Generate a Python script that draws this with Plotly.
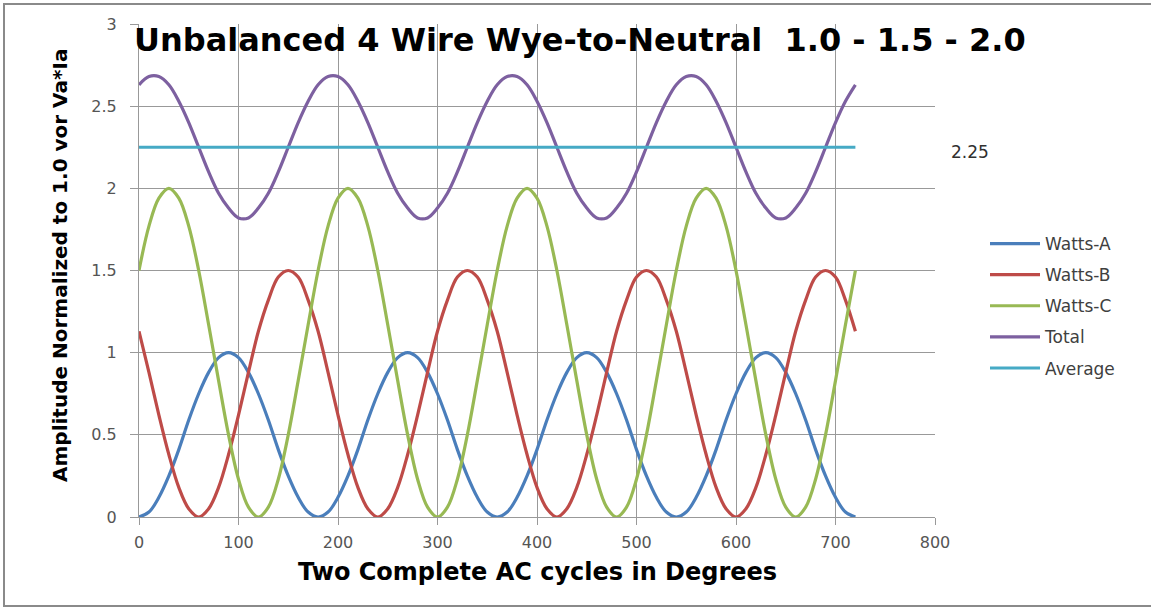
import plotly.graph_objects as go

degrees = [0, 10, 20, 30, 40, 50, 60, 70, 80, 90, 100, 110, 120, 130, 140, 150, 160, 170,
           180, 190, 200, 210, 220, 230, 240, 250, 260, 270, 280, 290, 300, 310, 320, 330, 340, 350,
           360, 370, 380, 390, 400, 410, 420, 430, 440, 450, 460, 470, 480, 490, 500, 510, 520, 530,
           540, 550, 560, 570, 580, 590, 600, 610, 620, 630, 640, 650, 660, 670, 680, 690, 700, 710,
           720]

watts_a = [0, 0.03, 0.12, 0.25, 0.41, 0.59, 0.75, 0.88, 0.97, 1, 0.97, 0.88, 0.75, 0.59, 0.41, 0.25, 0.12, 0.03,
           0, 0.03, 0.12, 0.25, 0.41, 0.59, 0.75, 0.88, 0.97, 1, 0.97, 0.88, 0.75, 0.59, 0.41, 0.25, 0.12, 0.03,
           0, 0.03, 0.12, 0.25, 0.41, 0.59, 0.75, 0.88, 0.97, 1, 0.97, 0.88, 0.75, 0.59, 0.41, 0.25, 0.12, 0.03,
           0, 0.03, 0.12, 0.25, 0.41, 0.59, 0.75, 0.88, 0.97, 1, 0.97, 0.88, 0.75, 0.59, 0.41, 0.25, 0.12, 0.03,
           0]

watts_b = [1.13, 0.88, 0.62, 0.38, 0.18, 0.05, 0, 0.05, 0.18, 0.38, 0.62, 0.88, 1.13, 1.32, 1.46, 1.5, 1.46, 1.32,
           1.13, 0.88, 0.62, 0.38, 0.18, 0.05, 0, 0.05, 0.18, 0.38, 0.62, 0.88, 1.13, 1.32, 1.46, 1.5, 1.46, 1.32,
           1.13, 0.88, 0.62, 0.38, 0.18, 0.05, 0, 0.05, 0.18, 0.38, 0.62, 0.88, 1.13, 1.32, 1.46, 1.5, 1.46, 1.32,
           1.13, 0.88, 0.62, 0.38, 0.18, 0.05, 0, 0.05, 0.18, 0.38, 0.62, 0.88, 1.13, 1.32, 1.46, 1.5, 1.46, 1.32,
           1.13]

watts_c = [1.5, 1.77, 1.94, 2, 1.94, 1.77, 1.5, 1.17, 0.83, 0.5, 0.23, 0.06, 0, 0.06, 0.23, 0.5, 0.83, 1.17,
           1.5, 1.77, 1.94, 2, 1.94, 1.77, 1.5, 1.17, 0.83, 0.5, 0.23, 0.06, 0, 0.06, 0.23, 0.5, 0.83, 1.17,
           1.5, 1.77, 1.94, 2, 1.94, 1.77, 1.5, 1.17, 0.83, 0.5, 0.23, 0.06, 0, 0.06, 0.23, 0.5, 0.83, 1.17,
           1.5, 1.77, 1.94, 2, 1.94, 1.77, 1.5, 1.17, 0.83, 0.5, 0.23, 0.06, 0, 0.06, 0.23, 0.5, 0.83, 1.17,
           1.5]

total = [2.63, 2.68, 2.68, 2.63, 2.53, 2.4, 2.25, 2.1, 1.97, 1.88, 1.82, 1.82, 1.88, 1.97, 2.1, 2.25, 2.4, 2.53,
         2.63, 2.68, 2.68, 2.63, 2.53, 2.4, 2.25, 2.1, 1.97, 1.88, 1.82, 1.82, 1.88, 1.97, 2.1, 2.25, 2.4, 2.53,
         2.63, 2.68, 2.68, 2.63, 2.53, 2.4, 2.25, 2.1, 1.97, 1.88, 1.82, 1.82, 1.88, 1.97, 2.1, 2.25, 2.4, 2.53,
         2.63, 2.68, 2.68, 2.63, 2.53, 2.4, 2.25, 2.1, 1.97, 1.88, 1.82, 1.82, 1.88, 1.97, 2.1, 2.25, 2.4, 2.53,
         2.63]

avg_x = [0, 720]
avg_y = [2.25, 2.25]
avg_label = "2.25"

series_names = ["Watts-A", "Watts-B", "Watts-C", "Total", "Average"]
colors = ["#4A7EBB", "#BE4B48", "#98B954", "#7D60A0", "#46AAC5"]

x_ticks = [0, 100, 200, 300, 400, 500, 600, 700, 800]
y_ticks = [0, 0.5, 1, 1.5, 2, 2.5, 3]
y_tick_text = ["0", "0.5", "1", "1.5", "2", "2.5", "3"]

title_text = "Unbalanced 4 Wire Wye-to-Neutral\u00a0 1.0 - 1.5 - 2.0"
x_title = "Two Complete AC cycles in Degrees"
y_title = "Amplitude Normalized to 1.0 vor Va*Ia"

W, H = 1151, 609
L, R, T, B = 139, 216, 24, 92
pw, ph = W - L - R, H - T - B

def px_x(p):
    return (p - L) / pw

def px_y(p):
    return (H - B - p) / ph

fig = go.Figure()
ys = [watts_a, watts_b, watts_c, total]
for name, yv, c in zip(series_names[:4], ys, colors[:4]):
    fig.add_trace(go.Scatter(x=degrees, y=yv, mode="lines", name=name,
                             legendgroup=name,
                             line=dict(color=c, width=3.2, shape="spline", smoothing=1.0)))
fig.add_trace(go.Scatter(x=avg_x, y=avg_y, mode="lines", name=series_names[4],
                         legendgroup=series_names[4],
                         line=dict(color=colors[4], width=3)))

tick_font = dict(family="DejaVu Sans", size=16, color="#555555")
grid_c = "#999999"

fig.update_layout(
    width=W, height=H,
    margin=dict(l=L, r=R, t=T, b=B, pad=0),
    paper_bgcolor="white", plot_bgcolor="white",
    showlegend=True,
    legend=dict(x=px_x(985), y=px_y(226), xanchor="left", yanchor="top",
                font=dict(family="DejaVu Sans", size=17, color="#404040"),
                tracegroupgap=6, itemwidth=50, bgcolor="rgba(0,0,0,0)"),
    xaxis=dict(range=[0, 800], tickvals=x_ticks, showgrid=True, gridcolor=grid_c,
               gridwidth=1, showline=True, linecolor=grid_c, linewidth=1,
               ticks="outside", ticklen=7, tickcolor=grid_c, tickfont=tick_font,
               zeroline=False, mirror=False, ticklabelstandoff=4),
    yaxis=dict(range=[0, 3], tickvals=y_ticks, ticktext=y_tick_text, showgrid=True,
               gridcolor=grid_c, gridwidth=1, showline=True, linecolor=grid_c,
               linewidth=1, ticks="outside", ticklen=8, tickcolor=grid_c,
               tickfont=tick_font, zeroline=False, ticklabelstandoff=10),
)

fig.add_annotation(text=f"<b>{title_text}</b>", xref="paper", yref="paper",
                   x=px_x(580), y=px_y(40), xanchor="center", yanchor="middle",
                   showarrow=False, font=dict(family="DejaVu Sans", size=32, color="black"))
fig.add_annotation(text=f"<b>{x_title}</b>", xref="paper", yref="paper",
                   x=px_x(537), y=px_y(572), xanchor="center", yanchor="middle",
                   showarrow=False, font=dict(family="DejaVu Sans", size=24, color="black"))
fig.add_annotation(text=f"<b>{y_title}</b>", xref="paper", yref="paper",
                   x=px_x(60), y=px_y(266), xanchor="center", yanchor="middle",
                   textangle=-90, showarrow=False,
                   font=dict(family="DejaVu Sans", size=20, color="black"))
fig.add_annotation(text=avg_label, xref="paper", yref="paper",
                   x=px_x(970), y=px_y(152), xanchor="center", yanchor="middle",
                   showarrow=False, font=dict(family="DejaVu Sans", size=17, color="#303030"))

fig.add_shape(type="rect", xref="paper", yref="paper",
              x0=px_x(4), x1=px_x(1160), y0=px_y(606), y1=px_y(4),
              line=dict(color="#8a8a8a", width=2), fillcolor="rgba(0,0,0,0)", layer="below")

fig.write_html("out.html")
